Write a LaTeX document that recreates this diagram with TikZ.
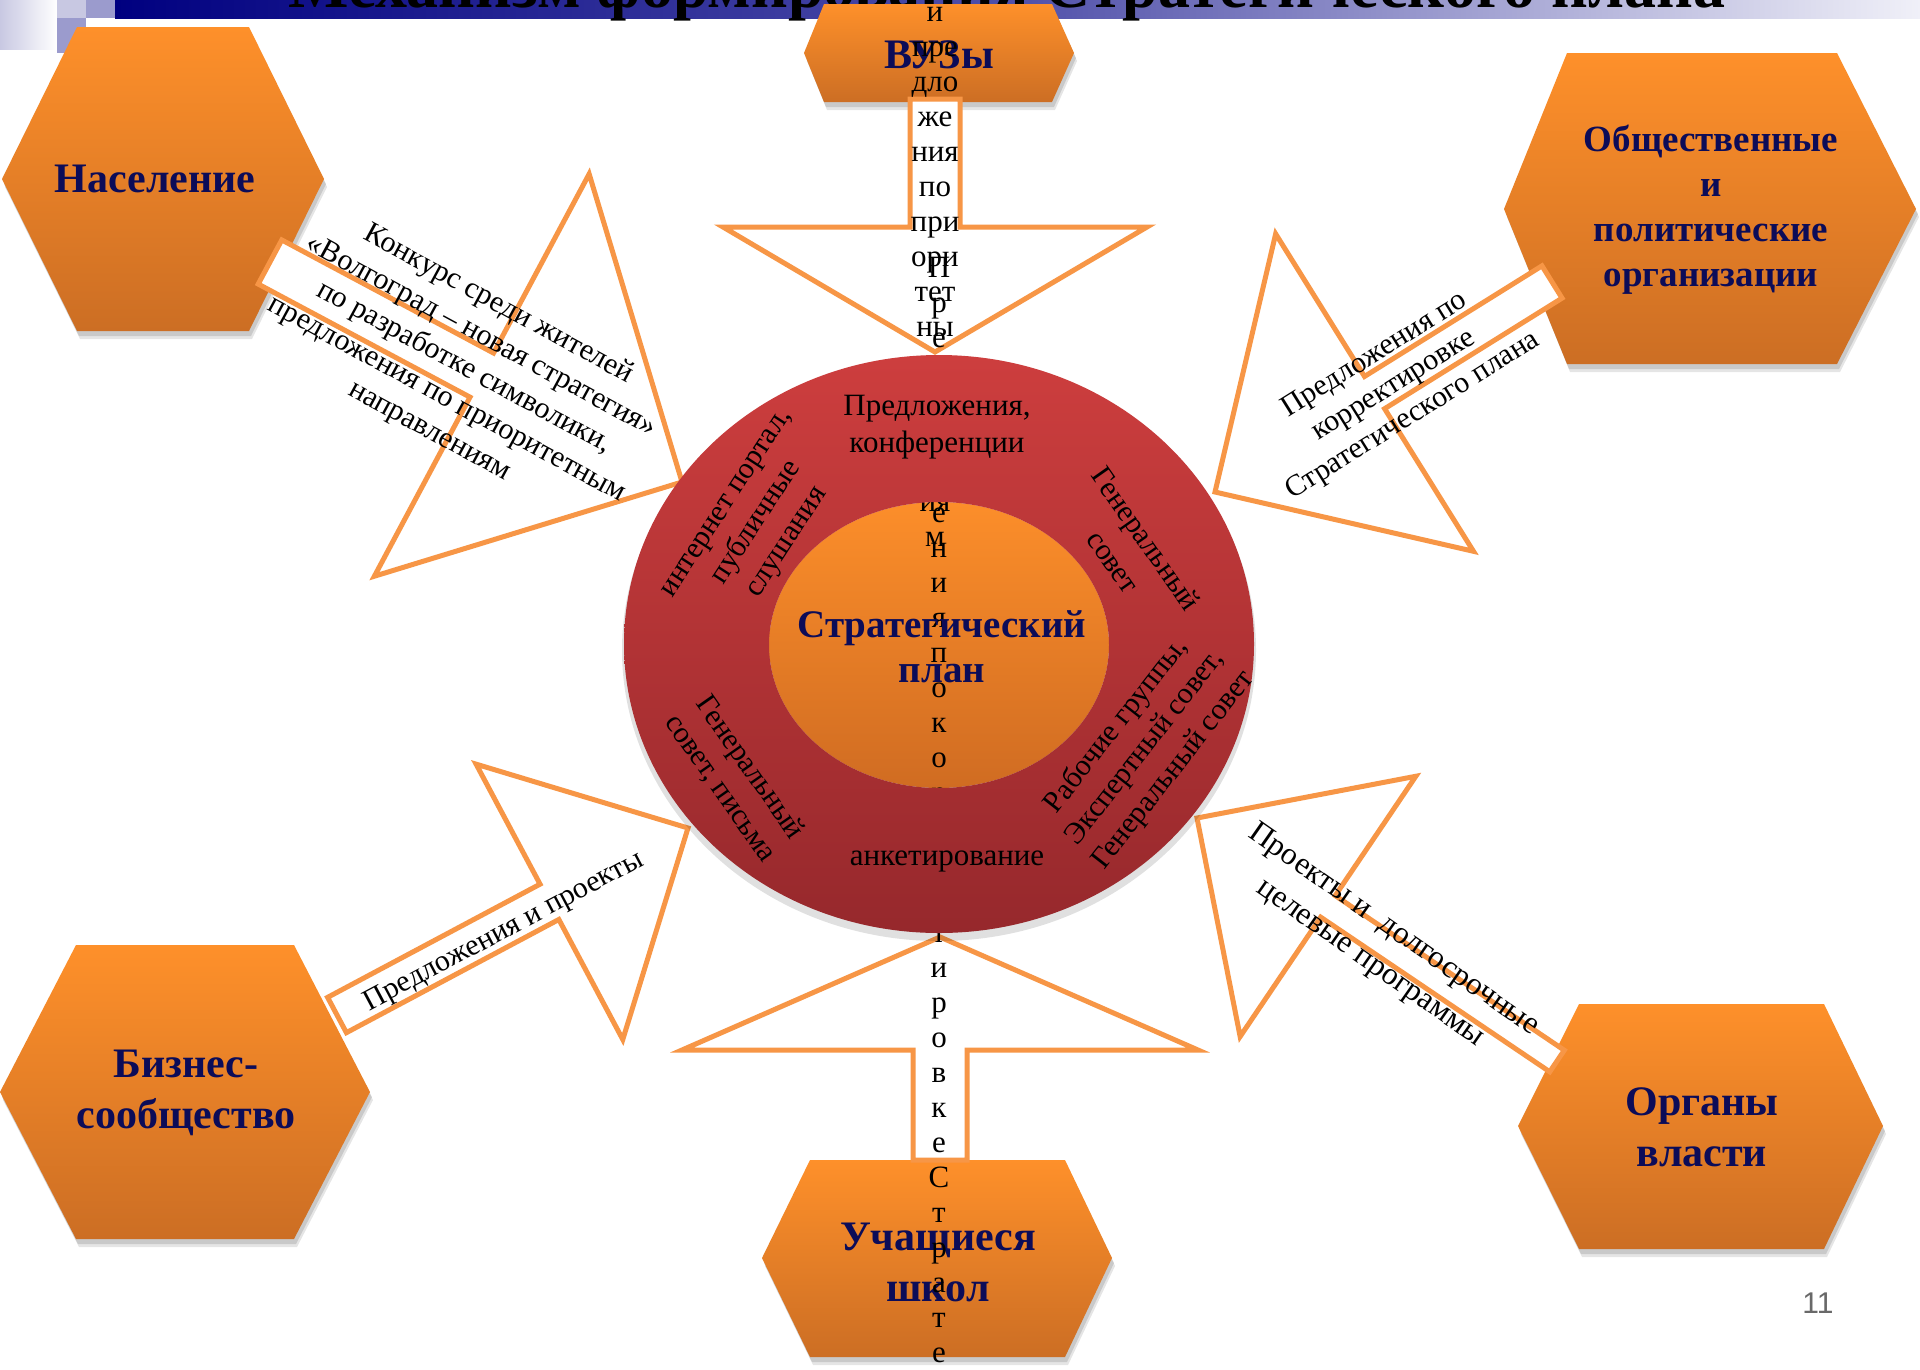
\documentclass[tikz,border=0pt]{standalone}
\usepackage{fontspec}
\setmainfont{Liberation Serif}
\newfontfamily\numfont{Liberation Sans}
\usetikzlibrary{calc}
\definecolor{arrO}{RGB}{247,150,70}
\definecolor{hexTop}{RGB}{254,144,42}
\definecolor{hexBot}{RGB}{204,110,36}
\definecolor{ringTop}{RGB}{205,62,62}
\definecolor{ringBot}{RGB}{150,40,44}
\definecolor{innTop}{RGB}{252,142,42}
\definecolor{innBot}{RGB}{208,108,34}
\definecolor{navyT}{RGB}{12,12,88}
\definecolor{barL}{RGB}{0,0,128}
\definecolor{barM}{RGB}{80,80,170}
\definecolor{barR}{RGB}{240,240,248}
\definecolor{lavA}{RGB}{200,200,226}
\definecolor{lavB}{RGB}{155,155,205}
\definecolor{pgGray}{RGB}{105,105,105}
\tikzset{
  arr/.style={draw=arrO, line width=5pt, fill=white, line join=miter, miter limit=20},
  hexfill/.style={top color=hexTop, bottom color=hexBot},
  hexlbl/.style={font=\bfseries\fontsize{42}{51}\selectfont, text=navyT, align=center, inner sep=0pt},
  lbl/.style={font=\fontsize{30}{36}\selectfont, align=center, inner sep=0pt, text=black},
  colch/.style={font=\fontsize{31}{35}\selectfont, inner sep=0pt, anchor=base, text=black},
}
\newcommand{\HexShape}[7]{%
  \fill[black, opacity=0.10] ($(#1,#7)+(3,8)$) -- ($(#2,#5)+(3,8)$) -- ($(#3,#5)+(3,8)$) -- ($(#4,#7)+(3,8)$) -- ($(#3,#6)+(3,8)$) -- ($(#2,#6)+(3,8)$) -- cycle;
  \fill[black, opacity=0.12] ($(#1,#7)+(2,5)$) -- ($(#2,#5)+(2,5)$) -- ($(#3,#5)+(2,5)$) -- ($(#4,#7)+(2,5)$) -- ($(#3,#6)+(2,5)$) -- ($(#2,#6)+(2,5)$) -- cycle;
  \path[hexfill] (#1,#7) -- (#2,#5) -- (#3,#5) -- (#4,#7) -- (#3,#6) -- (#2,#6) -- cycle;
}
\newcommand{\BlockArrow}[5]{%
  \coordinate (#2B) at ($(#2)!#3!(#1)$);
  \draw[arr] ($(#1)!#5!90:(#2)$) -- ($(#2B)!#5!90:(#2)$) -- ($(#2B)!#4!90:(#2)$) -- (#2)
    -- ($(#2B)!#4!-90:(#2)$) -- ($(#2B)!#5!-90:(#2)$) -- ($(#1)!#5!-90:(#2)$) -- cycle;
}
\begin{document}
\begin{tikzpicture}[x=1pt,y=-1pt]
\useasboundingbox (0,0) rectangle (1920,1369);
\clip (0,0) rectangle (1920,1369);
\fill[white] (0,0) rectangle (1920,1369);

% header decoration
\shade[left color=lavA, right color=white] (0,0) rectangle (57,49);
\fill[lavA] (57,0) rectangle (86,18);
\fill[lavB] (86,0) rectangle (115,18);
\fill[lavB] (57,18) rectangle (86,53);
\shade[left color=barL, right color=barR, middle color=barM] (115,0) rectangle (1920,18);
\node[font=\bfseries\fontsize{64}{66}\selectfont, anchor=base, inner sep=0pt] (title) at (1007,7) {Механизм формирования Стратегического плана};

% hexagons
\HexShape{2}{77}{249}{324}{27}{331}{179}
\HexShape{1504}{1567}{1837}{1916}{53}{364}{209}
\HexShape{0}{76}{294}{370}{945}{1239}{1092}
\HexShape{1518}{1579}{1824}{1883}{1004}{1249}{1126}
\HexShape{804}{824}{1052}{1074}{4}{102}{53}
\HexShape{762}{810}{1065}{1112}{1160}{1357}{1258}

\node[hexlbl] (nas) at (155,179) {Население};
\node[hexlbl, font=\bfseries\fontsize{37}{45}\selectfont] (obs) at (1711,210) {Общественные\\и\\политические\\организации};
\node[hexlbl] (biz) at (186,1093) {Бизнес-\\сообщество};
\node[hexlbl] (org) at (1702,1127) {Органы\\власти};
\node[hexlbl] (vuz) at (939,55) {ВУЗы};
\node[hexlbl] (uch) at (938,1262) {Учащиеся\\школ};

% block arrows
\coordinate (tT) at (935,99);   \coordinate (tP) at (935,352);
\BlockArrow{tT}{tP}{125pt}{212pt}{25pt}
\coordinate (bT) at (940,1160); \coordinate (bP) at (940,937);
\BlockArrow{bT}{bP}{113pt}{258pt}{27pt}
\coordinate (ulT) at (270,262); \coordinate (ulP) at (682,482);
\BlockArrow{ulT}{ulP}{227pt}{228pt}{25pt}
\coordinate (urT) at (1552,282); \coordinate (urP) at (1215,492);
\BlockArrow{urT}{urP}{188pt}{187pt}{19pt}
\coordinate (llT) at (337,1015); \coordinate (llP) at (688,828);
\BlockArrow{llT}{llP}{157pt}{156pt}{20pt}
\coordinate (lrT) at (1557,1061); \coordinate (lrP) at (1197,818);
\BlockArrow{lrT}{lrP}{158pt}{157pt}{13pt}

% arrow texts
\node[lbl, rotate=-28.5] (tul) at (464,368) {Конкурс среди жителей\\«Волгоград – новая стратегия»\\по разработке символики,\\предложения по приоритетным\\направлениям};
\node[lbl, rotate=32] (tur) at (1394,386) {Предложения по\\корректировке\\Стратегического плана};
\node[lbl, rotate=28] (tll) at (504,932) {Предложения и проекты};
\node[lbl, rotate=-35, font=\fontsize{31.5}{40}\selectfont] (tlr) at (1382,947) {Проекты и\ \ долгосрочные\\целевые программы};

% inner circle
\fill[black, opacity=0.12] (939,650) ellipse [x radius=317, y radius=291];
\path[top color=innTop, bottom color=innBot] (939,645) ellipse [x radius=170, y radius=143];

% overflowing vertical texts
\foreach \c [count=\i from 0] in {и,пре,дло,же,ния,по,при,ори,тет,ны,м,нап,рав,лен,ия,м} {
  \node[colch] (ca\i) at (935,{21+35*\i}) {\c};
}
\foreach \c [count=\i from 0] in {П,р,е,д,л,о,ж,е,н,и,я,п,о,к,о,р,р,е,к,т,и,р,о,в,к,е,С,т,р,а,т,е} {
  \node[colch] (cb\i) at (939,{277+35*\i}) {\c};
}

% outer ring
\path[top color=ringTop, bottom color=ringBot, even odd rule] (939,644) ellipse [x radius=315, y radius=289] (939,645) ellipse [x radius=170, y radius=143];

% ring texts
\node[lbl, font=\fontsize{31}{37}\selectfont] (rtop) at (937,427) {Предложения,\\конференции};
\node[lbl, rotate=57] (rul) at (759,524) {интернет портал,\\публичные\\слушания};
\node[lbl, rotate=-55, font=\fontsize{30}{40}\selectfont] (rur) at (1130,550) {Генеральный\\совет};
\node[lbl, rotate=-55] (rll) at (735,778) {Генеральный\\совет, письма};
\node[lbl, rotate=52] (rlr) at (1145,748) {Рабочие группы,\\Экспертный совет,\\Генеральный совет};
\node[lbl, font=\fontsize{31}{37}\selectfont] (rbot) at (947,861) {анкетирование};

\node[hexlbl, font=\bfseries\fontsize{39}{45}\selectfont] (plan) at (942,647) {Стратегический\\план};

\node[font=\numfont\fontsize{30}{30}\selectfont, text=pgGray, inner sep=0pt] (pg) at (1818,1303) {11};
\end{tikzpicture}
\end{document}
